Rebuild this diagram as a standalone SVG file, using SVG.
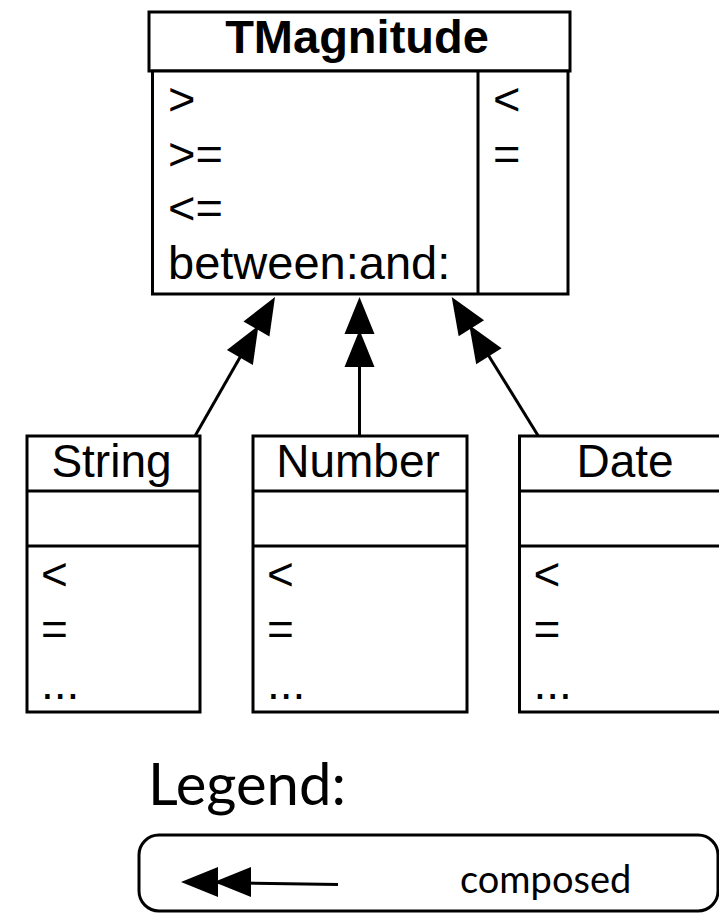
<svg xmlns="http://www.w3.org/2000/svg" xmlns:xlink="http://www.w3.org/1999/xlink" width="719" height="913" viewBox="0 0 719 913">
  <style>
    .box { fill: #fff; stroke: #000; stroke-width: 3; }
    .ln { fill: none; stroke: #000; stroke-width: 3; }
    .t { font-family: "Liberation Sans", Arial, Helvetica, sans-serif; font-size: 46px; fill: #000; }
    .big { font-size: 47px; }
    .tb { font-weight: bold; }
    .mid { text-anchor: middle; }
    .lg { font-family: Lato, "Open Sans", sans-serif; fill: #000; }
  </style>
  <defs>
    <!-- double filled arrowhead, tip at origin, pointing up -->
    <g id="head2" fill="#000" stroke="none">
      <polygon points="0,0 -15,37 15,37"/>
      <polygon points="0,33 -15,70 15,70"/>
    </g>
  </defs>

  <rect width="719" height="913" fill="#fff"/>

  <!-- connectors -->
  <g id="connectors">
    <line class="ln" x1="195" y1="436" x2="241.9" y2="354.1"/>
    <use xlink:href="#head2" transform="translate(275,297) rotate(30.1)"/>
    <line class="ln" x1="359.5" y1="436" x2="359.5" y2="362"/>
    <use xlink:href="#head2" transform="translate(359.5,297)"/>
    <line class="ln" x1="538.3" y1="436" x2="487" y2="353"/>
    <use xlink:href="#head2" transform="translate(451.7,297) rotate(-32.1)"/>
  </g>

  <!-- abstract class -->
  <g id="TMagnitude">
    <rect class="box" x="149" y="12" width="421" height="59"/>
    <rect class="box" x="152.5" y="71" width="415.5" height="223"/>
    <line class="ln" x1="478" y1="71" x2="478" y2="294"/>
    <text class="t big tb mid" x="357" y="53">TMagnitude</text>
    <text class="t big" x="168" y="115">&gt;</text>
    <text class="t big" x="168" y="169.5">&gt;=</text>
    <text class="t big" x="168" y="224">&lt;=</text>
    <text class="t big" x="168" y="278.5">between:and:</text>
    <text class="t big" x="493" y="115">&lt;</text>
    <text class="t big" x="493" y="169.5">=</text>
  </g>

  <g id="String">
    <rect class="box" x="27" y="436" width="173" height="276"/>
    <line class="ln" x1="27" y1="491" x2="200" y2="491"/>
    <line class="ln" x1="27" y1="546" x2="200" y2="546"/>
    <text class="t mid" x="111.5" y="477">String</text>
    <text class="t" x="41" y="590">&lt;</text>
    <text class="t" x="41" y="644.5">=</text>
    <text class="t" x="41" y="699">...</text>
  </g>

  <g id="Number">
    <rect class="box" x="253" y="436" width="214" height="276"/>
    <line class="ln" x1="253" y1="491" x2="467" y2="491"/>
    <line class="ln" x1="253" y1="546" x2="467" y2="546"/>
    <text class="t mid" x="358" y="477">Number</text>
    <text class="t" x="267" y="590">&lt;</text>
    <text class="t" x="267" y="644.5">=</text>
    <text class="t" x="267" y="699">...</text>
  </g>

  <g id="Date">
    <rect class="box" x="519.5" y="436" width="210" height="276"/>
    <line class="ln" x1="519.5" y1="491" x2="729.5" y2="491"/>
    <line class="ln" x1="519.5" y1="546" x2="729.5" y2="546"/>
    <text class="t mid" x="625" y="477">Date</text>
    <text class="t" x="533.5" y="590">&lt;</text>
    <text class="t" x="533.5" y="644.5">=</text>
    <text class="t" x="533.5" y="699">...</text>
  </g>

  <!-- legend -->
  <g id="legend">
    <text class="lg" x="148" y="805" font-size="58">Legend:</text>
    <rect class="box" x="139" y="835" width="579" height="76" rx="20" ry="20"/>
    <line class="ln" x1="215" y1="882.5" x2="338" y2="884.5"/>
    <use xlink:href="#head2" transform="translate(181,882) rotate(-90)"/>
    <text class="lg" x="460" y="893" font-size="38">composed</text>
  </g>
</svg>
